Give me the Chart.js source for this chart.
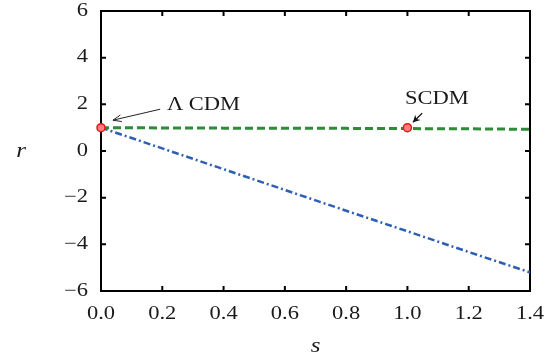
<!DOCTYPE html>
<html>
<head>
<meta charset="utf-8">
<script src="https://cdn.jsdelivr.net/npm/chart.js@4/dist/chart.umd.min.js"></script>
<style>
  html, body { margin: 0; padding: 0; background: #fff; }
  #wrap { width: 554px; height: 362px; }
</style>
</head>
<body>
<div id="wrap"><canvas id="c" width="554" height="362"></canvas></div>
<script>
// Parameter s and the two r(s) trajectories
const sValues = [0, 0.2, 0.4, 0.6, 0.8, 1.0, 1.2, 1.4];
const rFlat   = [1.0, 0.99, 0.98, 0.98, 0.97, 0.96, 0.95, 0.93];
const rFalling = [1.0, 0.11, -0.78, -1.67, -2.56, -3.44, -4.33, -5.2];

// Fixed points of the models
const modelNames = ['\u039B CDM', 'SCDM'];
const modelS = [0, 1.0];
const modelR = [1, 1];

// Axis ticks
const xTicks = [0, 0.2, 0.4, 0.6, 0.8, 1.0, 1.2, 1.4];
const yTicks = [-6, -4, -2, 0, 2, 4, 6];

const FONT = '"Liberation Serif", "Times New Roman", serif';
const STRETCH = 1.25;
const INK = '#1a1a1a';

function toXY(xs, ys) { return xs.map((x, i) => ({ x: x, y: ys[i] })); }

function drawText(ctx, str, x, y, align, size, italic) {
  ctx.save();
  ctx.font = (italic ? 'italic ' : '') + size + 'px ' + FONT;
  ctx.fillStyle = INK;
  ctx.textBaseline = 'middle';
  ctx.translate(x, y);
  ctx.scale(STRETCH, 1);
  const w = ctx.measureText(str).width;
  let dx = 0;
  if (align === 'center') dx = -w / 2;
  else if (align === 'right') dx = -w;
  ctx.textAlign = 'left';
  ctx.fillText(str, dx, 0);
  ctx.restore();
}

function fmtY(v) { return v < 0 ? '\u2212' + Math.abs(v) : String(v); }

const framePlugin = {
  id: 'frame',
  beforeDatasetsDraw(chart) {
    const { ctx, chartArea: a, scales: { x, y } } = chart;
    ctx.save();
    ctx.strokeStyle = '#000';
    ctx.lineWidth = 2;
    ctx.strokeRect(a.left, a.top, a.right - a.left, a.bottom - a.top);
    // inward ticks on all four sides
    ctx.lineWidth = 2;
    const L = 5;
    x.ticks.forEach(t => {
      const px = x.getPixelForValue(t.value);
      ctx.beginPath();
      ctx.moveTo(px, a.bottom); ctx.lineTo(px, a.bottom - L);
      ctx.moveTo(px, a.top); ctx.lineTo(px, a.top + L);
      ctx.stroke();
    });
    y.ticks.forEach(t => {
      const py = y.getPixelForValue(t.value);
      ctx.beginPath();
      ctx.moveTo(a.left, py); ctx.lineTo(a.left + L, py);
      ctx.moveTo(a.right, py); ctx.lineTo(a.right - L, py);
      ctx.stroke();
    });
    ctx.restore();

    // tick labels
    x.ticks.forEach(t => {
      drawText(ctx, t.value.toFixed(1), x.getPixelForValue(t.value), a.bottom + 23, 'center', 18, false);
    });
    y.ticks.forEach(t => {
      drawText(ctx, fmtY(t.value), a.left - 13, y.getPixelForValue(t.value), 'right', 18, false);
    });
    // axis titles
    drawText(ctx, 'r', 21, y.getPixelForValue(0) + 1, 'center', 20, true);
    drawText(ctx, 's', (a.left + a.right) / 2, a.bottom + 56, 'center', 20, true);
  },
  afterDatasetsDraw(chart) {
    const { ctx, scales: { x, y } } = chart;
    // Lambda CDM label with open arrow
    drawText(ctx, modelNames[0], x.getPixelForValue(0.215), y.getPixelForValue(1.96), 'left', 18, false);
    const t1 = [x.getPixelForValue(0.193), y.getPixelForValue(1.79)];
    const h1 = [x.getPixelForValue(0.039), y.getPixelForValue(1.32)];
    ctx.save();
    ctx.strokeStyle = '#222';
    ctx.lineWidth = 1;
    ctx.beginPath();
    ctx.moveTo(t1[0], t1[1]); ctx.lineTo(h1[0], h1[1]);
    const ang = Math.atan2(h1[1] - t1[1], h1[0] - t1[0]);
    const hl = 9, hw = 0.38;
    ctx.moveTo(h1[0] - hl * Math.cos(ang - hw), h1[1] - hl * Math.sin(ang - hw));
    ctx.lineTo(h1[0], h1[1]);
    ctx.lineTo(h1[0] - hl * Math.cos(ang + hw), h1[1] - hl * Math.sin(ang + hw));
    ctx.stroke();
    ctx.restore();

    // SCDM label with filled arrow
    drawText(ctx, modelNames[1], x.getPixelForValue(1.096), y.getPixelForValue(2.22), 'center', 18, false);
    const t2 = [x.getPixelForValue(1.048), y.getPixelForValue(1.62)];
    const h2 = [x.getPixelForValue(1.018), y.getPixelForValue(1.23)];
    ctx.save();
    ctx.strokeStyle = '#111';
    ctx.fillStyle = '#111';
    ctx.lineWidth = 1.2;
    ctx.beginPath();
    ctx.moveTo(t2[0], t2[1]); ctx.lineTo(h2[0], h2[1]);
    ctx.stroke();
    const a2 = Math.atan2(h2[1] - t2[1], h2[0] - t2[0]);
    const hl2 = 8, hw2 = 0.5;
    ctx.beginPath();
    ctx.moveTo(h2[0], h2[1]);
    ctx.lineTo(h2[0] - hl2 * Math.cos(a2 - hw2), h2[1] - hl2 * Math.sin(a2 - hw2));
    ctx.lineTo(h2[0] - hl2 * 0.6 * Math.cos(a2), h2[1] - hl2 * 0.6 * Math.sin(a2));
    ctx.lineTo(h2[0] - hl2 * Math.cos(a2 + hw2), h2[1] - hl2 * Math.sin(a2 + hw2));
    ctx.closePath();
    ctx.fill();
    ctx.restore();
  }
};

new Chart(document.getElementById('c'), {
  type: 'line',
  data: {
    datasets: [
      {
        label: 'falling',
        data: toXY(sValues, rFalling),
        borderColor: '#2f5fb3',
        borderWidth: 2.5,
        borderDash: [7, 3, 2, 3],
        pointRadius: 0,
        fill: false,
        order: 3
      },
      {
        label: 'flat',
        data: toXY(sValues, rFlat),
        borderColor: '#2f8a3a',
        borderWidth: 3,
        borderDash: [8, 4],
        pointRadius: 0,
        fill: false,
        order: 2
      },
      {
        label: 'models',
        data: toXY(modelS, modelR),
        showLine: false,
        pointRadius: 4,
        pointBorderWidth: 1.5,
        pointBorderColor: '#ee1111',
        pointBackgroundColor: '#ff8080',
        clip: false,
        order: 1
      }
    ]
  },
  options: {
    responsive: false,
    animation: false,
    layout: { padding: { left: 101, right: 24, top: 11, bottom: 71 } },
    plugins: { legend: { display: false }, tooltip: { enabled: false } },
    elements: { line: { tension: 0 } },
    scales: {
      x: {
        type: 'linear',
        min: 0, max: 1.4,
        afterBuildTicks: s => { s.ticks = xTicks.map(v => ({ value: v })); },
        ticks: { display: false },
        grid: { display: false },
        border: { display: false },
        afterFit: s => { s.height = 0; }
      },
      y: {
        type: 'linear',
        min: -6, max: 6,
        afterBuildTicks: s => { s.ticks = yTicks.map(v => ({ value: v })); },
        ticks: { display: false },
        grid: { display: false },
        border: { display: false },
        afterFit: s => { s.width = 0; }
      }
    }
  },
  plugins: [framePlugin]
});
</script>
</body>
</html>
